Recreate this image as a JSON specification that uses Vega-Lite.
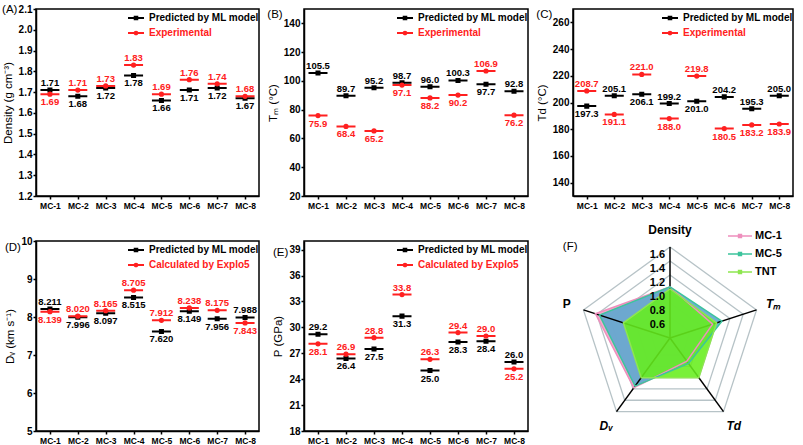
{
  "$schema": "https://vega.github.io/schema/vega-lite/v6.json",
  "padding": {"left": 1, "top": 2, "right": 0, "bottom": 0},
  "bounds": "flush",
  "columns": 3,
  "spacing": {"row": 45, "column": 45},
  "resolve": {"scale": {"color": "independent", "shape": "independent", "fill": "independent"}, "legend": {"color": "independent", "shape": "independent", "fill": "independent"}},
  "config": {
    "font": "Liberation Sans",
    "view": {"stroke": "black", "strokeWidth": 1.5},
    "axis": {"grid": false, "domainColor": "black", "domainWidth": 1.5, "tickColor": "black", "tickWidth": 1.5, "tickSize": 3,
      "labelColor": "black", "labelFontWeight": "bold", "labelFont": "Liberation Sans",
      "titleColor": "black", "titleFontWeight": "normal", "titleFontSize": 11.5, "titleFont": "Liberation Sans"},
    "axisY": {"labelFontSize": 10, "labelPadding": 1, "titlePadding": 5},
    "axisX": {"labelFontSize": 8.5, "labelAngle": 0, "labelPadding": 2},
    "legend": {"orient": "top-right", "offset": 0, "padding": 0, "labelFontSize": 10, "labelFontWeight": "bold", "labelFont": "Liberation Sans",
      "symbolSize": 256, "symbolStrokeWidth": 2, "rowPadding": -2, "labelOffset": 4},
    "title": {"font": "Liberation Sans", "fontSize": 11.5, "fontWeight": "normal", "anchor": "start", "frame": "bounds", "offset": -11}
  },
  "datasets": {
    "dens": [
      {"sample": "MC-1", "series": "Predicted by ML model", "value": 1.71},
      {"sample": "MC-2", "series": "Predicted by ML model", "value": 1.68},
      {"sample": "MC-3", "series": "Predicted by ML model", "value": 1.72},
      {"sample": "MC-4", "series": "Predicted by ML model", "value": 1.78},
      {"sample": "MC-5", "series": "Predicted by ML model", "value": 1.66},
      {"sample": "MC-6", "series": "Predicted by ML model", "value": 1.71},
      {"sample": "MC-7", "series": "Predicted by ML model", "value": 1.72},
      {"sample": "MC-8", "series": "Predicted by ML model", "value": 1.67},
      {"sample": "MC-1", "series": "Experimental", "value": 1.69},
      {"sample": "MC-2", "series": "Experimental", "value": 1.71},
      {"sample": "MC-3", "series": "Experimental", "value": 1.73},
      {"sample": "MC-4", "series": "Experimental", "value": 1.83},
      {"sample": "MC-5", "series": "Experimental", "value": 1.69},
      {"sample": "MC-6", "series": "Experimental", "value": 1.76},
      {"sample": "MC-7", "series": "Experimental", "value": 1.74},
      {"sample": "MC-8", "series": "Experimental", "value": 1.68}
    ],
    "tm": [
      {"sample": "MC-1", "series": "Predicted by ML model", "value": 105.5},
      {"sample": "MC-2", "series": "Predicted by ML model", "value": 89.7},
      {"sample": "MC-3", "series": "Predicted by ML model", "value": 95.2},
      {"sample": "MC-4", "series": "Predicted by ML model", "value": 98.7},
      {"sample": "MC-5", "series": "Predicted by ML model", "value": 96.0},
      {"sample": "MC-6", "series": "Predicted by ML model", "value": 100.3},
      {"sample": "MC-7", "series": "Predicted by ML model", "value": 97.7},
      {"sample": "MC-8", "series": "Predicted by ML model", "value": 92.8},
      {"sample": "MC-1", "series": "Experimental", "value": 75.9},
      {"sample": "MC-2", "series": "Experimental", "value": 68.4},
      {"sample": "MC-3", "series": "Experimental", "value": 65.2},
      {"sample": "MC-4", "series": "Experimental", "value": 97.1},
      {"sample": "MC-5", "series": "Experimental", "value": 88.2},
      {"sample": "MC-6", "series": "Experimental", "value": 90.2},
      {"sample": "MC-7", "series": "Experimental", "value": 106.9},
      {"sample": "MC-8", "series": "Experimental", "value": 76.2}
    ],
    "td": [
      {"sample": "MC-1", "series": "Predicted by ML model", "value": 197.3},
      {"sample": "MC-2", "series": "Predicted by ML model", "value": 205.1},
      {"sample": "MC-3", "series": "Predicted by ML model", "value": 206.1},
      {"sample": "MC-4", "series": "Predicted by ML model", "value": 199.2},
      {"sample": "MC-5", "series": "Predicted by ML model", "value": 201.0},
      {"sample": "MC-6", "series": "Predicted by ML model", "value": 204.2},
      {"sample": "MC-7", "series": "Predicted by ML model", "value": 195.3},
      {"sample": "MC-8", "series": "Predicted by ML model", "value": 205.0},
      {"sample": "MC-1", "series": "Experimental", "value": 208.7},
      {"sample": "MC-2", "series": "Experimental", "value": 191.1},
      {"sample": "MC-3", "series": "Experimental", "value": 221.0},
      {"sample": "MC-4", "series": "Experimental", "value": 188.0},
      {"sample": "MC-5", "series": "Experimental", "value": 219.8},
      {"sample": "MC-6", "series": "Experimental", "value": 180.5},
      {"sample": "MC-7", "series": "Experimental", "value": 183.2},
      {"sample": "MC-8", "series": "Experimental", "value": 183.9}
    ],
    "dv": [
      {"sample": "MC-1", "series": "Predicted by ML model", "value": 8.211},
      {"sample": "MC-2", "series": "Predicted by ML model", "value": 7.996},
      {"sample": "MC-3", "series": "Predicted by ML model", "value": 8.097},
      {"sample": "MC-4", "series": "Predicted by ML model", "value": 8.515},
      {"sample": "MC-5", "series": "Predicted by ML model", "value": 7.620},
      {"sample": "MC-6", "series": "Predicted by ML model", "value": 8.149},
      {"sample": "MC-7", "series": "Predicted by ML model", "value": 7.956},
      {"sample": "MC-8", "series": "Predicted by ML model", "value": 7.988},
      {"sample": "MC-1", "series": "Calculated by Explo5", "value": 8.139},
      {"sample": "MC-2", "series": "Calculated by Explo5", "value": 8.020},
      {"sample": "MC-3", "series": "Calculated by Explo5", "value": 8.165},
      {"sample": "MC-4", "series": "Calculated by Explo5", "value": 8.705},
      {"sample": "MC-5", "series": "Calculated by Explo5", "value": 7.912},
      {"sample": "MC-6", "series": "Calculated by Explo5", "value": 8.238},
      {"sample": "MC-7", "series": "Calculated by Explo5", "value": 8.175},
      {"sample": "MC-8", "series": "Calculated by Explo5", "value": 7.843}
    ],
    "pres": [
      {"sample": "MC-1", "series": "Predicted by ML model", "value": 29.2},
      {"sample": "MC-2", "series": "Predicted by ML model", "value": 26.4},
      {"sample": "MC-3", "series": "Predicted by ML model", "value": 27.5},
      {"sample": "MC-4", "series": "Predicted by ML model", "value": 31.3},
      {"sample": "MC-5", "series": "Predicted by ML model", "value": 25.0},
      {"sample": "MC-6", "series": "Predicted by ML model", "value": 28.3},
      {"sample": "MC-7", "series": "Predicted by ML model", "value": 28.4},
      {"sample": "MC-8", "series": "Predicted by ML model", "value": 26.0},
      {"sample": "MC-1", "series": "Calculated by Explo5", "value": 28.1},
      {"sample": "MC-2", "series": "Calculated by Explo5", "value": 26.9},
      {"sample": "MC-3", "series": "Calculated by Explo5", "value": 28.8},
      {"sample": "MC-4", "series": "Calculated by Explo5", "value": 33.8},
      {"sample": "MC-5", "series": "Calculated by Explo5", "value": 26.3},
      {"sample": "MC-6", "series": "Calculated by Explo5", "value": 29.4},
      {"sample": "MC-7", "series": "Calculated by Explo5", "value": 29.0},
      {"sample": "MC-8", "series": "Calculated by Explo5", "value": 25.2}
    ],
    "radar": [
      {"series": "MC-1", "axis": "Density", "value": 1.03},
      {"series": "MC-1", "axis": "Tm", "value": 0.94},
      {"series": "MC-1", "axis": "Td", "value": 0.71},
      {"series": "MC-1", "axis": "Dv", "value": 1.18},
      {"series": "MC-1", "axis": "P", "value": 1.42},
      {"series": "MC-5", "axis": "Density", "value": 1.03},
      {"series": "MC-5", "axis": "Tm", "value": 1.08},
      {"series": "MC-5", "axis": "Td", "value": 0.75},
      {"series": "MC-5", "axis": "Dv", "value": 1.15},
      {"series": "MC-5", "axis": "P", "value": 1.36},
      {"series": "TNT", "axis": "Density", "value": 1.0},
      {"series": "TNT", "axis": "Tm", "value": 1.0},
      {"series": "TNT", "axis": "Td", "value": 1.0},
      {"series": "TNT", "axis": "Dv", "value": 1.0},
      {"series": "TNT", "axis": "P", "value": 1.0}
    ],
    "rings": [
      {"value": 0.6, "axis": ["Density", "Tm", "Td", "Dv", "P"]},
      {"value": 0.8, "axis": ["Density", "Tm", "Td", "Dv", "P"]},
      {"value": 1.0, "axis": ["Density", "Tm", "Td", "Dv", "P"]},
      {"value": 1.2, "axis": ["Density", "Tm", "Td", "Dv", "P"]},
      {"value": 1.4, "axis": ["Density", "Tm", "Td", "Dv", "P"]},
      {"value": 1.6, "axis": ["Density", "Tm", "Td", "Dv", "P"]}
    ],
    "axes": [
      {"axis": "Density", "label": "Density", "kind": "plain"},
      {"axis": "Tm", "label": "Tₘ", "kind": "italic"},
      {"axis": "Td", "label": "Td", "kind": "italic"},
      {"axis": "Dv", "label": "Dᵥ", "kind": "italic"},
      {"axis": "P", "label": "P", "kind": "plain"}
    ]
  },
  "concat": [
    {
      "width": 223, "height": 187,
      "title": {"text": "(A)"},
      "data": {"name": "dens"},
      "transform": [{"joinaggregate": [{"op": "max", "field": "value", "as": "vmax"}], "groupby": ["sample"]}],
      "encoding": {
        "x": {"field": "sample", "type": "nominal", "axis": {"title": null}},
        "y": {"field": "value", "type": "quantitative", "scale": {"domain": [1.2, 2.1], "nice": false, "zero": false},
          "axis": {"title": "Density (g cm⁻³)", "values": [1.2, 1.3, 1.4, 1.5, 1.6, 1.7, 1.8, 1.9, 2.0, 2.1], "format": ".1f"}}
      },
      "layer": [
        {
          "mark": {"type": "point", "filled": false, "strokeWidth": 2, "size": 361, "opacity": 1},
          "encoding": {
            "color": {"field": "series", "type": "nominal", "title": null,
              "scale": {"domain": ["Predicted by ML model", "Experimental"], "range": ["black", "#ff2020"]},
              "legend": {"labelColor": {"expr": "datum.value == 'Predicted by ML model' ? 'black' : '#ff2020'"}}},
            "shape": {"field": "series", "type": "nominal", "title": null,
              "scale": {"domain": ["Predicted by ML model", "Experimental"],
                "range": ["M-1,0H1M-0.16,-0.16H0.16V0.16H-0.16ZM-0.06,-0.06H0.06V0.06H-0.06Z",
                  "M-1,0H1M0.17,0A0.17,0.17 0 1,1 -0.17,0A0.17,0.17 0 1,1 0.17,0ZM0.06,0A0.06,0.06 0 1,1 -0.06,0A0.06,0.06 0 1,1 0.06,0Z"]}}
          }
        },
        {
          "transform": [{"filter": "datum.value >= datum.vmax"}],
          "mark": {"type": "text", "baseline": "alphabetic", "dy": -4, "fontWeight": "bold", "fontSize": 9.5},
          "encoding": {"text": {"field": "value", "type": "quantitative", "format": ".2f"},
            "color": {"condition": {"test": "datum.series == 'Predicted by ML model'", "value": "black"}, "value": "#ff2020"}}
        },
        {
          "transform": [{"filter": "datum.value < datum.vmax"}],
          "mark": {"type": "text", "baseline": "top", "dy": 3, "fontWeight": "bold", "fontSize": 9.5},
          "encoding": {"text": {"field": "value", "type": "quantitative", "format": ".2f"},
            "color": {"condition": {"test": "datum.series == 'Predicted by ML model'", "value": "black"}, "value": "#ff2020"}}
        }
      ]
    },
    {
      "width": 224, "height": 187,
      "title": {"text": "(B)"},
      "data": {"name": "tm"},
      "transform": [{"joinaggregate": [{"op": "max", "field": "value", "as": "vmax"}], "groupby": ["sample"]}],
      "encoding": {
        "x": {"field": "sample", "type": "nominal", "axis": {"title": null}},
        "y": {"field": "value", "type": "quantitative", "scale": {"domain": [20, 150], "nice": false, "zero": false},
          "axis": {"title": "Tₘ (°C)", "values": [20, 40, 60, 80, 100, 120, 140]}}
      },
      "layer": [
        {
          "mark": {"type": "point", "filled": false, "strokeWidth": 2, "size": 361, "opacity": 1},
          "encoding": {
            "color": {"field": "series", "type": "nominal", "title": null,
              "scale": {"domain": ["Predicted by ML model", "Experimental"], "range": ["black", "#ff2020"]},
              "legend": {"labelColor": {"expr": "datum.value == 'Predicted by ML model' ? 'black' : '#ff2020'"}}},
            "shape": {"field": "series", "type": "nominal", "title": null,
              "scale": {"domain": ["Predicted by ML model", "Experimental"],
                "range": ["M-1,0H1M-0.16,-0.16H0.16V0.16H-0.16ZM-0.06,-0.06H0.06V0.06H-0.06Z",
                  "M-1,0H1M0.17,0A0.17,0.17 0 1,1 -0.17,0A0.17,0.17 0 1,1 0.17,0ZM0.06,0A0.06,0.06 0 1,1 -0.06,0A0.06,0.06 0 1,1 0.06,0Z"]}}
          }
        },
        {
          "transform": [{"filter": "datum.value >= datum.vmax"}],
          "mark": {"type": "text", "baseline": "alphabetic", "dy": -4, "fontWeight": "bold", "fontSize": 9.5},
          "encoding": {"text": {"field": "value", "type": "quantitative", "format": ".1f"},
            "color": {"condition": {"test": "datum.series == 'Predicted by ML model'", "value": "black"}, "value": "#ff2020"}}
        },
        {
          "transform": [{"filter": "datum.value < datum.vmax"}],
          "mark": {"type": "text", "baseline": "top", "dy": 3, "fontWeight": "bold", "fontSize": 9.5},
          "encoding": {"text": {"field": "value", "type": "quantitative", "format": ".1f"},
            "color": {"condition": {"test": "datum.series == 'Predicted by ML model'", "value": "black"}, "value": "#ff2020"}}
        }
      ]
    },
    {
      "width": 220, "height": 187,
      "title": {"text": "(C)"},
      "data": {"name": "td"},
      "transform": [{"joinaggregate": [{"op": "max", "field": "value", "as": "vmax"}], "groupby": ["sample"]}],
      "encoding": {
        "x": {"field": "sample", "type": "nominal", "axis": {"title": null}},
        "y": {"field": "value", "type": "quantitative", "scale": {"domain": [130, 270], "nice": false, "zero": false},
          "axis": {"title": "Td (°C)", "values": [140, 160, 180, 200, 220, 240, 260]}}
      },
      "layer": [
        {
          "mark": {"type": "point", "filled": false, "strokeWidth": 2, "size": 361, "opacity": 1},
          "encoding": {
            "color": {"field": "series", "type": "nominal", "title": null,
              "scale": {"domain": ["Predicted by ML model", "Experimental"], "range": ["black", "#ff2020"]},
              "legend": {"labelColor": {"expr": "datum.value == 'Predicted by ML model' ? 'black' : '#ff2020'"}}},
            "shape": {"field": "series", "type": "nominal", "title": null,
              "scale": {"domain": ["Predicted by ML model", "Experimental"],
                "range": ["M-1,0H1M-0.16,-0.16H0.16V0.16H-0.16ZM-0.06,-0.06H0.06V0.06H-0.06Z",
                  "M-1,0H1M0.17,0A0.17,0.17 0 1,1 -0.17,0A0.17,0.17 0 1,1 0.17,0ZM0.06,0A0.06,0.06 0 1,1 -0.06,0A0.06,0.06 0 1,1 0.06,0Z"]}}
          }
        },
        {
          "transform": [{"filter": "datum.value >= datum.vmax"}],
          "mark": {"type": "text", "baseline": "alphabetic", "dy": -4, "fontWeight": "bold", "fontSize": 9.5},
          "encoding": {"text": {"field": "value", "type": "quantitative", "format": ".1f"},
            "color": {"condition": {"test": "datum.series == 'Predicted by ML model'", "value": "black"}, "value": "#ff2020"}}
        },
        {
          "transform": [{"filter": "datum.value < datum.vmax"}],
          "mark": {"type": "text", "baseline": "top", "dy": 3, "fontWeight": "bold", "fontSize": 9.5},
          "encoding": {"text": {"field": "value", "type": "quantitative", "format": ".1f"},
            "color": {"condition": {"test": "datum.series == 'Predicted by ML model'", "value": "black"}, "value": "#ff2020"}}
        }
      ]
    },
    {
      "width": 223, "height": 190,
      "title": {"text": "(D)", "offset": -17},
      "data": {"name": "dv"},
      "transform": [{"joinaggregate": [{"op": "max", "field": "value", "as": "vmax"}], "groupby": ["sample"]}],
      "encoding": {
        "x": {"field": "sample", "type": "nominal", "axis": {"title": null}},
        "y": {"field": "value", "type": "quantitative", "scale": {"domain": [5, 10], "nice": false, "zero": false},
          "axis": {"title": "Dᵥ (km s⁻¹)", "values": [5, 6, 7, 8, 9, 10]}}
      },
      "layer": [
        {
          "mark": {"type": "point", "filled": false, "strokeWidth": 2, "size": 361, "opacity": 1},
          "encoding": {
            "color": {"field": "series", "type": "nominal", "title": null,
              "scale": {"domain": ["Predicted by ML model", "Calculated by Explo5"], "range": ["black", "#ff2020"]},
              "legend": {"labelColor": {"expr": "datum.value == 'Predicted by ML model' ? 'black' : '#ff2020'"}}},
            "shape": {"field": "series", "type": "nominal", "title": null,
              "scale": {"domain": ["Predicted by ML model", "Calculated by Explo5"],
                "range": ["M-1,0H1M-0.16,-0.16H0.16V0.16H-0.16ZM-0.06,-0.06H0.06V0.06H-0.06Z",
                  "M-1,0H1M0.17,0A0.17,0.17 0 1,1 -0.17,0A0.17,0.17 0 1,1 0.17,0ZM0.06,0A0.06,0.06 0 1,1 -0.06,0A0.06,0.06 0 1,1 0.06,0Z"]}}
          }
        },
        {
          "transform": [{"filter": "datum.value >= datum.vmax"}],
          "mark": {"type": "text", "baseline": "alphabetic", "dy": -4, "fontWeight": "bold", "fontSize": 9.5},
          "encoding": {"text": {"field": "value", "type": "quantitative", "format": ".3f"},
            "color": {"condition": {"test": "datum.series == 'Predicted by ML model'", "value": "black"}, "value": "#ff2020"}}
        },
        {
          "transform": [{"filter": "datum.value < datum.vmax"}],
          "mark": {"type": "text", "baseline": "top", "dy": 3, "fontWeight": "bold", "fontSize": 9.5},
          "encoding": {"text": {"field": "value", "type": "quantitative", "format": ".3f"},
            "color": {"condition": {"test": "datum.series == 'Predicted by ML model'", "value": "black"}, "value": "#ff2020"}}
        }
      ]
    },
    {
      "width": 224, "height": 190,
      "title": {"text": "(E)", "offset": -17},
      "data": {"name": "pres"},
      "transform": [{"joinaggregate": [{"op": "max", "field": "value", "as": "vmax"}], "groupby": ["sample"]}],
      "encoding": {
        "x": {"field": "sample", "type": "nominal", "axis": {"title": null}},
        "y": {"field": "value", "type": "quantitative", "scale": {"domain": [18, 40], "nice": false, "zero": false},
          "axis": {"title": "P (GPa)", "values": [18, 21, 24, 27, 30, 33, 36, 39]}}
      },
      "layer": [
        {
          "mark": {"type": "point", "filled": false, "strokeWidth": 2, "size": 361, "opacity": 1},
          "encoding": {
            "color": {"field": "series", "type": "nominal", "title": null,
              "scale": {"domain": ["Predicted by ML model", "Calculated by Explo5"], "range": ["black", "#ff2020"]},
              "legend": {"labelColor": {"expr": "datum.value == 'Predicted by ML model' ? 'black' : '#ff2020'"}}},
            "shape": {"field": "series", "type": "nominal", "title": null,
              "scale": {"domain": ["Predicted by ML model", "Calculated by Explo5"],
                "range": ["M-1,0H1M-0.16,-0.16H0.16V0.16H-0.16ZM-0.06,-0.06H0.06V0.06H-0.06Z",
                  "M-1,0H1M0.17,0A0.17,0.17 0 1,1 -0.17,0A0.17,0.17 0 1,1 0.17,0ZM0.06,0A0.06,0.06 0 1,1 -0.06,0A0.06,0.06 0 1,1 0.06,0Z"]}}
          }
        },
        {
          "transform": [{"filter": "datum.value >= datum.vmax"}],
          "mark": {"type": "text", "baseline": "alphabetic", "dy": -4, "fontWeight": "bold", "fontSize": 9.5},
          "encoding": {"text": {"field": "value", "type": "quantitative", "format": ".1f"},
            "color": {"condition": {"test": "datum.series == 'Predicted by ML model'", "value": "black"}, "value": "#ff2020"}}
        },
        {
          "transform": [{"filter": "datum.value < datum.vmax"}],
          "mark": {"type": "text", "baseline": "top", "dy": 3, "fontWeight": "bold", "fontSize": 9.5},
          "encoding": {"text": {"field": "value", "type": "quantitative", "format": ".1f"},
            "color": {"condition": {"test": "datum.series == 'Predicted by ML model'", "value": "black"}, "value": "#ff2020"}}
        }
      ]
    },
    {
      "width": 229, "height": 190,
      "view": {"stroke": null},
      "title": {"text": "(F)", "offset": -29},
      "encoding": {
        "x": {"field": "px", "type": "quantitative", "axis": null, "scale": {"domain": [-1.386, 1.886], "nice": false, "zero": false}},
        "y": {"field": "py", "type": "quantitative", "axis": null, "scale": {"domain": [-1.329, 1.386], "nice": false, "zero": false}}
      },
      "layer": [
        {
          "data": {"name": "rings"},
          "transform": [
            {"flatten": ["axis"]},
            {"calculate": "indexof(['Density','Tm','Td','Dv','P'], datum.axis) * 2 * PI / 5", "as": "ang"},
            {"calculate": "(datum.value - 0.3) * sin(datum.ang)", "as": "px"},
            {"calculate": "(datum.value - 0.3) * cos(datum.ang)", "as": "py"}
          ],
          "mark": {"type": "line", "interpolate": "linear-closed", "stroke": "#b7c3c7", "strokeWidth": 1.3},
          "encoding": {"detail": {"field": "value", "type": "nominal"}, "order": {"field": "ang", "type": "quantitative"}}
        },
        {
          "data": {"name": "radar"},
          "transform": [
            {"filter": "datum.series != 'TNT'"},
            {"calculate": "indexof(['Density','Tm','Td','Dv','P'], datum.axis) * 2 * PI / 5", "as": "ang"},
            {"calculate": "(datum.value - 0.3) * sin(datum.ang)", "as": "px"},
            {"calculate": "(datum.value - 0.3) * cos(datum.ang)", "as": "py"}
          ],
          "mark": {"type": "line", "interpolate": "linear-closed", "strokeWidth": 0, "fillOpacity": 0.9},
          "encoding": {
            "fill": {"field": "series", "type": "nominal", "legend": null, "scale": {"domain": ["MC-1", "MC-5"], "range": ["#f2a2c8", "#5ea7cf"]}},
            "detail": {"field": "series", "type": "nominal"},
            "order": {"field": "ang", "type": "quantitative"}
          }
        },
        {
          "data": {"name": "rings"},
          "transform": [
            {"filter": "datum.value == 1.6"},
            {"flatten": ["axis"]},
            {"calculate": "indexof(['Density','Tm','Td','Dv','P'], datum.axis) * 2 * PI / 5", "as": "ang"},
            {"calculate": "(datum.value - 0.3) * sin(datum.ang)", "as": "px"},
            {"calculate": "(datum.value - 0.3) * cos(datum.ang)", "as": "py"}
          ],
          "mark": {"type": "rule", "color": "black", "strokeWidth": 1.5},
          "encoding": {"x2": {"datum": 0}, "y2": {"datum": 0}}
        },
        {
          "data": {"name": "radar"},
          "transform": [
            {"filter": "datum.series == 'TNT'"},
            {"calculate": "indexof(['Density','Tm','Td','Dv','P'], datum.axis) * 2 * PI / 5", "as": "ang"},
            {"calculate": "(datum.value - 0.3) * sin(datum.ang)", "as": "px"},
            {"calculate": "(datum.value - 0.3) * cos(datum.ang)", "as": "py"}
          ],
          "mark": {"type": "line", "interpolate": "linear-closed", "strokeWidth": 0, "fill": "#66ee1c", "fillOpacity": 0.88},
          "encoding": {"order": {"field": "ang", "type": "quantitative"}}
        },
        {
          "data": {"name": "radar"},
          "transform": [
            {"calculate": "indexof(['Density','Tm','Td','Dv','P'], datum.axis) * 2 * PI / 5", "as": "ang"},
            {"calculate": "(datum.value - 0.3) * sin(datum.ang)", "as": "px"},
            {"calculate": "(datum.value - 0.3) * cos(datum.ang)", "as": "py"}
          ],
          "mark": {"type": "line", "interpolate": "linear-closed", "strokeWidth": 1.5},
          "encoding": {
            "color": {"field": "series", "type": "nominal", "title": null,
              "scale": {"domain": ["MC-1", "MC-5", "TNT"], "range": ["#ee8fbd", "#3cc49c", "#8ee650"]},
              "legend": {"orient": "none", "legendX": 154, "legendY": -18, "symbolType": "M-1,0H1M-0.12,-0.12H0.12V0.12H-0.12Z", "symbolSize": 576, "symbolStrokeWidth": 1.5, "labelFontSize": 11, "labelOffset": 2, "rowPadding": -11, "labelColor": "black"}},
            "order": {"field": "ang", "type": "quantitative"}
          }
        },
        {
          "data": {"name": "rings"},
          "transform": [
            {"calculate": "0", "as": "px"},
            {"calculate": "datum.value - 0.3", "as": "py"}
          ],
          "mark": {"type": "text", "align": "right", "baseline": "middle", "dx": -5, "dy": 8, "fontWeight": "bold", "fontSize": 11},
          "encoding": {"text": {"field": "value", "type": "quantitative", "format": ".1f"}, "color": {"value": "black"}}
        },
        {
          "data": {"name": "axes"},
          "transform": [
            {"filter": "datum.kind == 'plain'"},
            {"calculate": "indexof(['Density','Tm','Td','Dv','P'], datum.axis) * 2 * PI / 5", "as": "ang"},
            {"calculate": "1.55 * sin(datum.ang)", "as": "px"},
            {"calculate": "1.55 * cos(datum.ang)", "as": "py"}
          ],
          "mark": {"type": "text", "align": "center", "baseline": "middle", "fontWeight": "bold", "fontSize": 12},
          "encoding": {"text": {"field": "label"}, "color": {"value": "black"}}
        },
        {
          "data": {"name": "axes"},
          "transform": [
            {"filter": "datum.kind == 'italic'"},
            {"calculate": "indexof(['Density','Tm','Td','Dv','P'], datum.axis) * 2 * PI / 5", "as": "ang"},
            {"calculate": "1.55 * sin(datum.ang)", "as": "px"},
            {"calculate": "1.55 * cos(datum.ang)", "as": "py"}
          ],
          "mark": {"type": "text", "align": "center", "baseline": "middle", "fontWeight": "bold", "fontStyle": "italic", "fontSize": 12},
          "encoding": {"text": {"field": "label"}, "color": {"value": "black"}}
        }
      ]
    }
  ]
}
